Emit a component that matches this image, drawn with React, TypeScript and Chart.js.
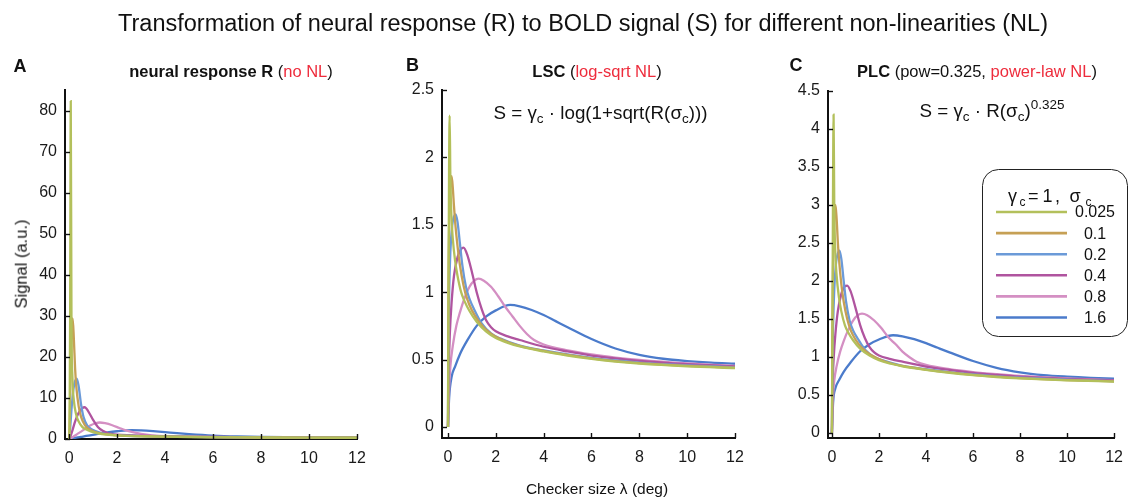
import React, { useEffect, useRef } from 'react';
import { Chart, registerables } from 'chart.js';

Chart.register(...registerables);

// ---------- data ----------
const sigmaLabels = ['0.025', '0.1', '0.2', '0.4', '0.8', '1.6'];
const xTicks = [0, 2, 4, 6, 8, 10, 12];
const yTicksA = [0, 10, 20, 30, 40, 50, 60, 70, 80];
const yTicksB = [0, 0.5, 1, 1.5, 2, 2.5];
const yTicksC = [0, 0.5, 1, 1.5, 2, 2.5, 3, 3.5, 4, 4.5];

// checker size (deg) sampled for each sigma
const x025 = [0, 0.02, 0.045, 0.07, 0.1, 0.14, 0.2, 0.3, 0.4, 0.55, 0.7, 0.9, 1.2, 1.6, 2.0, 2.5, 3, 4, 5, 6, 7, 8, 10, 12];
const x01 = [0, 0.02, 0.05, 0.1, 0.15, 0.2, 0.25, 0.3, 0.4, 0.5, 0.65, 0.8, 1.0, 1.3, 1.7, 2.2, 3, 4, 5, 6, 7, 8, 10, 12];
const x02 = [0, 0.02, 0.05, 0.1, 0.18, 0.25, 0.32, 0.4, 0.5, 0.6, 0.75, 0.9, 1.1, 1.4, 1.8, 2.2, 3, 4, 5, 6, 7, 8, 10, 12];
const x04 = [0, 0.03, 0.08, 0.15, 0.25, 0.4, 0.55, 0.65, 0.8, 1.0, 1.2, 1.4, 1.6, 1.8, 2.0, 2.5, 3, 4, 5, 6, 7, 8, 10, 12];
const x08 = [0, 0.05, 0.1, 0.2, 0.35, 0.5, 0.7, 0.9, 1.1, 1.28, 1.5, 1.8, 2.1, 2.4, 2.7, 3.0, 3.3, 3.6, 4, 5, 6, 7, 8, 10, 12];
const x16 = [0, 0.05, 0.15, 0.3, 0.5, 0.8, 1.2, 1.6, 2.0, 2.6, 3.0, 3.5, 4, 4.5, 5, 6, 7, 8, 9, 10, 11, 12];

// Panel A: neural response R (no NL)
const rA025 = [0, 2.14, 32.3, 82.3, 28.7, 14.9, 9.33, 5.86, 4.26, 2.95, 2.35, 1.86, 1.4, 1.057, 0.874, 0.751, 0.667, 0.564, 0.489, 0.432, 0.39, 0.36, 0.323, 0.3];
const rA01 = [0, 2.95, 12.1, 24.3, 29.4, 24.3, 17.3, 12.8, 7.95, 5.38, 3.45, 2.51, 1.89, 1.4, 1.05, 0.845, 0.679, 0.574, 0.498, 0.441, 0.398, 0.368, 0.328, 0.306];
const rA02 = [0, 0.676, 2.95, 7.13, 12.1, 14.1, 14.7, 12.8, 8.39, 5.38, 3.35, 2.51, 1.92, 1.35, 1.01, 0.856, 0.685, 0.585, 0.508, 0.449, 0.406, 0.376, 0.336, 0.309];
const rA04 = [0, 0.242, 1.03, 2.28, 4.26, 6.38, 7.53, 7.73, 6.74, 4.66, 2.95, 1.99, 1.45, 1.2, 1.07, 0.918, 0.821, 0.661, 0.564, 0.489, 0.438, 0.4, 0.352, 0.323];
const rA08 = [0, 0.122, 0.323, 0.676, 1.25, 1.8, 2.6, 3.35, 3.84, 4.02, 3.84, 3.35, 2.68, 2.06, 1.61, 1.25, 0.988, 0.821, 0.713, 0.585, 0.508, 0.454, 0.414, 0.362, 0.328];
const rA16 = [0, 0.061, 0.2, 0.323, 0.513, 0.804, 1.25, 1.61, 1.89, 2.17, 2.095, 1.91, 1.67, 1.42, 1.2, 0.845, 0.624, 0.5, 0.434, 0.398, 0.374, 0.358];

// Panel B: LSC (log-sqrt NL)
const sB025 = [0, 0.9, 1.9, 2.31, 1.85, 1.58, 1.4, 1.23, 1.12, 1.0, 0.93, 0.86, 0.78, 0.707, 0.66, 0.624, 0.597, 0.56, 0.53, 0.505, 0.485, 0.47, 0.45, 0.437];
const sB01 = [0, 1.0, 1.5, 1.78, 1.86, 1.78, 1.64, 1.52, 1.34, 1.2, 1.05, 0.95, 0.865, 0.78, 0.705, 0.652, 0.601, 0.564, 0.534, 0.509, 0.489, 0.474, 0.453, 0.44];
const sB02 = [0, 0.6, 1.0, 1.3, 1.5, 1.56, 1.577, 1.52, 1.36, 1.2, 1.04, 0.95, 0.87, 0.77, 0.695, 0.655, 0.603, 0.568, 0.538, 0.513, 0.493, 0.478, 0.457, 0.442];
const sB04 = [0, 0.4, 0.7, 0.92, 1.12, 1.26, 1.32, 1.33, 1.28, 1.15, 1.0, 0.88, 0.79, 0.74, 0.71, 0.672, 0.645, 0.595, 0.56, 0.53, 0.508, 0.49, 0.466, 0.45];
const sB08 = [0, 0.3, 0.45, 0.6, 0.75, 0.85, 0.96, 1.04, 1.085, 1.1, 1.085, 1.04, 0.97, 0.89, 0.82, 0.75, 0.69, 0.645, 0.612, 0.568, 0.538, 0.515, 0.497, 0.471, 0.453];
const sB16 = [0, 0.22, 0.37, 0.45, 0.54, 0.64, 0.75, 0.82, 0.865, 0.905, 0.895, 0.868, 0.83, 0.785, 0.74, 0.652, 0.582, 0.535, 0.506, 0.489, 0.477, 0.469];

// Panel C: PLC (power-law NL, pow = 0.325)
const sC025 = [0, 1.28, 3.1, 4.19, 2.98, 2.4, 2.07, 1.78, 1.6, 1.42, 1.32, 1.22, 1.11, 1.018, 0.957, 0.911, 0.877, 0.83, 0.792, 0.761, 0.736, 0.718, 0.693, 0.676];
const sC01 = [0, 1.42, 2.25, 2.82, 3.0, 2.82, 2.52, 2.29, 1.96, 1.73, 1.5, 1.35, 1.23, 1.11, 1.02, 0.947, 0.882, 0.835, 0.797, 0.766, 0.741, 0.722, 0.696, 0.68];
const sC02 = [0, 0.88, 1.42, 1.89, 2.25, 2.36, 2.4, 2.29, 2.0, 1.73, 1.48, 1.35, 1.24, 1.1, 1.0, 0.951, 0.884, 0.84, 0.802, 0.771, 0.746, 0.728, 0.701, 0.683];
const sC04 = [0, 0.631, 1.01, 1.31, 1.6, 1.83, 1.93, 1.94, 1.86, 1.65, 1.42, 1.25, 1.13, 1.06, 1.02, 0.973, 0.938, 0.874, 0.83, 0.792, 0.765, 0.742, 0.713, 0.693];
const sC08 = [0, 0.505, 0.693, 0.88, 1.07, 1.21, 1.36, 1.48, 1.55, 1.57, 1.55, 1.48, 1.38, 1.26, 1.17, 1.07, 0.996, 0.938, 0.896, 0.84, 0.802, 0.774, 0.751, 0.719, 0.696];
const sC16 = [0, 0.402, 0.593, 0.693, 0.805, 0.931, 1.075, 1.168, 1.23, 1.286, 1.272, 1.234, 1.182, 1.121, 1.061, 0.947, 0.858, 0.799, 0.762, 0.741, 0.726, 0.716];

// ---------- styles ----------
const seriesColors = ['#b3c05b', '#c6a055', '#6b9ad8', '#b0549f', '#d48fc3', '#4b7bcb'];
const FONT = '"Liberation Sans", Arial, Helvetica, sans-serif';
const xSets = [x025, x01, x02, x04, x08, x16];

function toPoints(xs: number[], ys: number[]) {
  return xs.map((x, i) => ({ x, y: ys[i] }));
}

const inwardTicks = {
  id: 'inwardTicks',
  afterDatasetsDraw(chart: any) {
    const { ctx, chartArea, scales } = chart;
    ctx.save();
    ctx.strokeStyle = '#111';
    ctx.lineWidth = 1.4;
    const xs = scales.x;
    const ys = scales.y;
    xs.ticks.forEach((t: any) => {
      const px = Math.round(xs.getPixelForValue(t.value)) + 0.5;
      ctx.beginPath();
      ctx.moveTo(px, chartArea.bottom);
      ctx.lineTo(px, chartArea.bottom - 5);
      ctx.stroke();
    });
    ys.ticks.forEach((t: any) => {
      const py = Math.round(ys.getPixelForValue(t.value)) + 0.5;
      ctx.beginPath();
      ctx.moveTo(chartArea.left, py);
      ctx.lineTo(chartArea.left + 5, py);
      ctx.stroke();
    });
    ctx.restore();
  },
};

const boxLegend = {
  id: 'boxLegend',
  afterDatasetsDraw(chart: any, _args: any, opts: any) {
    if (!opts || !opts.show) return;
    const { ctx } = chart;
    ctx.save();
    ctx.beginPath();
    ctx.roundRect(222.5, 169.5, 145, 167, 16);
    ctx.fillStyle = '#ffffff';
    ctx.fill();
    ctx.strokeStyle = '#222';
    ctx.lineWidth = 1;
    ctx.stroke();
    // title: γc=1, σc  (pieces placed like the TeX-rendered original)
    ctx.fillStyle = '#111';
    ctx.textBaseline = 'alphabetic';
    ctx.textAlign = 'left';
    const big = `18px ${FONT}`;
    const small = `12px ${FONT}`;
    const pieces: [string, string, number, number][] = [
      ['γ', big, 248, 202],
      ['c', small, 259.5, 206],
      ['=', big, 268, 202],
      ['1', big, 282.5, 202],
      [',', big, 295, 202],
      ['σ', big, 309.5, 202],
      ['c', small, 325.5, 206],
    ];
    pieces.forEach(([t, f, x, y]) => {
      ctx.font = f;
      ctx.fillText(t, x, y);
    });
    chart.data.datasets.forEach((ds: any, i: number) => {
      const y = 212 + i * 21.1;
      ctx.beginPath();
      ctx.strokeStyle = ds.borderColor;
      ctx.lineWidth = 2.6;
      ctx.moveTo(236, y);
      ctx.lineTo(307, y);
      ctx.stroke();
      ctx.font = `16px ${FONT}`;
      ctx.fillStyle = '#111';
      ctx.textAlign = 'center';
      ctx.textBaseline = 'middle';
      ctx.fillText(ds.label, 335, y + 1);
    });
    ctx.restore();
  },
};

type PanelProps = {
  left: number;
  width: number;
  ys: number[][];
  yTicks: number[];
  yMin: number;
  yMax: number;
  xMin: number;
  pad: { left: number; right: number; top: number; bottom: number };
  legend?: boolean;
};

function Panel({ left, width, ys, yTicks, yMin, yMax, xMin, pad, legend }: PanelProps) {
  const ref = useRef<HTMLCanvasElement | null>(null);
  useEffect(() => {
    if (!ref.current) return;
    const chart = new Chart(ref.current, {
      type: 'line',
      data: {
        datasets: ys.map((y, i) => ({
          label: sigmaLabels[i],
          data: toPoints(xSets[i], y),
          borderColor: seriesColors[i],
          backgroundColor: seriesColors[i],
          borderWidth: 2.3,
          pointRadius: 0,
          fill: false,
          cubicInterpolationMode: 'monotone' as const,
        })),
      },
      options: {
        animation: false,
        responsive: false,
        maintainAspectRatio: false,
        events: [],
        layout: { padding: pad },
        plugins: {
          legend: { display: false },
          tooltip: { enabled: false },
          // @ts-ignore
          boxLegend: { show: !!legend },
        },
        scales: {
          x: {
            type: 'linear',
            min: xMin,
            max: 12,
            afterFit: (s: any) => {
              s.height = 30;
            },
            afterBuildTicks: (s: any) => {
              s.ticks = xTicks.map((v) => ({ value: v }));
            },
            grid: { display: true, drawOnChartArea: false, drawTicks: false },
            border: { display: true, color: '#111', width: 2 },
            ticks: {
              autoSkip: false,
              maxRotation: 0,
              padding: 10,
              color: '#1a1a1a',
              font: { size: 16, family: FONT },
              callback: (v: any) => String(v),
            },
          },
          y: {
            type: 'linear',
            min: yMin,
            max: yMax,
            afterFit: (s: any) => {
              s.width = 50;
            },
            afterBuildTicks: (s: any) => {
              s.ticks = yTicks.map((v) => ({ value: v }));
            },
            grid: { display: true, drawOnChartArea: false, drawTicks: false },
            border: { display: true, color: '#111', width: 2 },
            ticks: {
              autoSkip: false,
              padding: 8,
              color: '#1a1a1a',
              font: { size: 16, family: FONT },
              callback: (v: any) => String(v),
            },
          },
        },
      },
      plugins: [inwardTicks, boxLegend],
    } as any);
    return () => chart.destroy();
  }, []);
  return (
    <canvas
      ref={ref}
      width={width}
      height={499}
      style={{ position: 'absolute', left, top: 0, width, height: 499 }}
    />
  );
}

const textBase: React.CSSProperties = {
  position: 'absolute',
  whiteSpace: 'nowrap',
  lineHeight: 1,
  fontFamily: FONT,
  color: '#111',
  transform: 'translate(-50%, -50%)',
};

function T({ x, y, size, children, style }: { x: number; y: number; size: number; children: React.ReactNode; style?: React.CSSProperties }) {
  return <div style={{ ...textBase, left: x, top: y, fontSize: size, ...style }}>{children}</div>;
}

const RED = '#ee2c3c';
const sub: React.CSSProperties = { fontSize: '0.72em', position: 'relative', top: '0.3em' };

export default function App() {
  return (
    <div style={{ position: 'absolute', left: 0, top: 0, width: 1133, height: 499, background: '#fff', overflow: 'hidden' }}>
      <Panel
        left={0}
        width={380}
        ys={[rA025, rA01, rA02, rA04, rA08, rA16]}
        yTicks={yTicksA}
        yMin={0}
        yMax={85}
        xMin={-0.17}
        pad={{ left: 15, right: 23, top: 90, bottom: 30 }}
      />
      <Panel
        left={380}
        width={380}
        ys={[sB025, sB01, sB02, sB04, sB08, sB16]}
        yTicks={yTicksB}
        yMin={-0.082}
        yMax={2.5}
        xMin={-0.25}
        pad={{ left: 12, right: 25, top: 90, bottom: 31 }}
      />
      <Panel
        left={760}
        width={373}
        ys={[sC025, sC01, sC02, sC04, sC08, sC16]}
        yTicks={yTicksC}
        yMin={-0.066}
        yMax={4.5}
        xMin={-0.167}
        pad={{ left: 18, right: 13, top: 91, bottom: 31 }}
        legend
      />

      <T x={583} y={24} size={23.5}>
        Transformation of neural response (R) to BOLD signal (S) for different non-linearities (NL)
      </T>

      <T x={20} y={65.5} size={18} style={{ fontWeight: 'bold' }}>A</T>
      <T x={412.5} y={64.5} size={18} style={{ fontWeight: 'bold' }}>B</T>
      <T x={796} y={65} size={18} style={{ fontWeight: 'bold' }}>C</T>

      <T x={231} y={71} size={16.5}>
        <b>neural response R</b> (<span style={{ color: RED }}>no NL</span>)
      </T>
      <T x={597} y={71} size={16.5}>
        <b>LSC</b> (<span style={{ color: RED }}>log-sqrt NL</span>)
      </T>
      <T x={977} y={71} size={16.5}>
        <b>PLC</b> (pow=0.325, <span style={{ color: RED }}>power-law NL</span>)
      </T>

      <T x={600.5} y={113} size={18.8}>
        S = γ<span style={sub}>c</span> · log(1+sqrt(R(σ<span style={sub}>c</span>)))
      </T>
      <T x={992} y={111} size={18.8}>
        S = γ<span style={sub}>c</span> · R(σ<span style={sub}>c</span>)
        <span style={{ fontSize: '0.72em', position: 'relative', top: '-0.6em' }}>0.325</span>
      </T>

      <T x={20.5} y={264} size={16.5} style={{ transform: 'translate(-50%, -50%) rotate(-90deg)' }}>
        Signal (a.u.)
      </T>
      <T x={597} y={489} size={15.5}>
        Checker size λ (deg)
      </T>
    </div>
  );
}
